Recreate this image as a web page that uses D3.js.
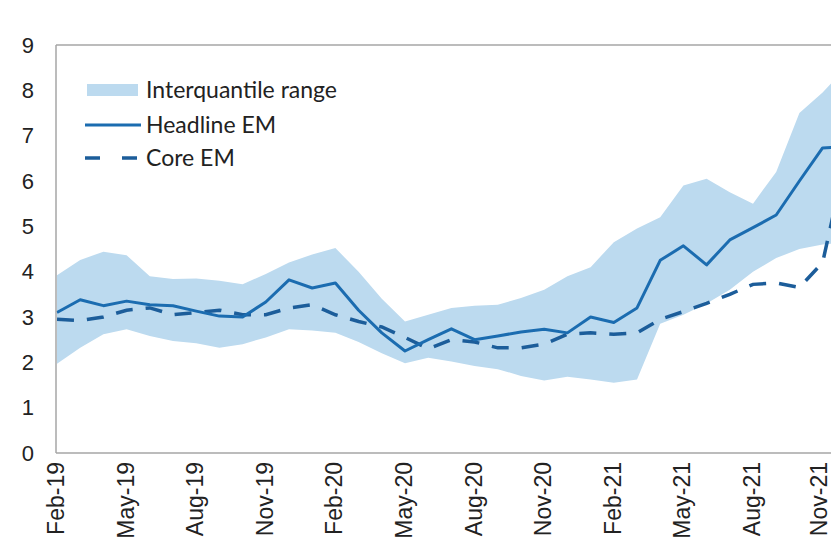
<!DOCTYPE html>
<html>
<head>
<meta charset="utf-8">
<script src="https://cdn.jsdelivr.net/npm/d3@7"></script>
<style>
  html, body { margin: 0; padding: 0; background: #fff; }
  svg { display: block; }
</style>
</head>
<body>
<svg id="chart" width="831" height="550"></svg>
<script>
const months = ["Feb-19","Mar-19","Apr-19","May-19","Jun-19","Jul-19","Aug-19","Sep-19","Oct-19","Nov-19","Dec-19",
  "Jan-20","Feb-20","Mar-20","Apr-20","May-20","Jun-20","Jul-20","Aug-20","Sep-20","Oct-20","Nov-20","Dec-20",
  "Jan-21","Feb-21","Mar-21","Apr-21","May-21","Jun-21","Jul-21","Aug-21","Sep-21","Oct-21","Nov-21","Dec-21"];
const tickLabels = ["Feb-19","May-19","Aug-19","Nov-19","Feb-20","May-20","Aug-20","Nov-20","Feb-21","May-21","Aug-21","Nov-21"];
const yTicks = [0,1,2,3,4,5,6,7,8,9];

const iqrUpper = [3.92,4.26,4.44,4.36,3.9,3.84,3.85,3.8,3.72,3.95,4.2,4.38,4.52,4.0,3.4,2.9,3.05,
  3.2,3.25,3.27,3.42,3.6,3.9,4.1,4.65,4.95,5.2,5.9,6.05,5.75,5.5,6.2,7.5,7.95,8.5];
const iqrLower = [1.97,2.32,2.62,2.73,2.58,2.47,2.42,2.32,2.4,2.55,2.73,2.7,2.65,2.45,2.2,1.98,2.1,
  2.02,1.92,1.85,1.7,1.6,1.68,1.62,1.55,1.62,2.85,3.05,3.3,3.6,4.0,4.3,4.5,4.6,4.65];
const headline = [3.1,3.38,3.25,3.35,3.27,3.25,3.13,3.02,3.0,3.33,3.82,3.64,3.75,3.15,2.65,2.25,2.5,
  2.74,2.5,2.58,2.67,2.73,2.65,3.0,2.88,3.2,4.25,4.57,4.15,4.7,4.97,5.25,6.0,6.73,6.75];
const core = [2.95,2.92,3.0,3.15,3.2,3.05,3.1,3.15,3.05,3.05,3.2,3.27,3.05,2.9,2.78,2.55,2.3,
  2.5,2.45,2.32,2.32,2.4,2.62,2.65,2.62,2.65,2.95,3.12,3.3,3.5,3.72,3.75,3.65,4.2,6.5];

const legendItems = ["Interquantile range","Headline EM","Core EM"];

const svg = d3.select("#chart");
const plotLeft = 56, plotTop = 45, plotBottom = 453;
const x = d3.scalePoint().domain(months).range([57, 57 + 23.2 * (months.length - 1)]);
const y = d3.scaleLinear().domain([0, 9]).range([plotBottom, plotTop]);

const bandColor = "#bcdaef";
const lineColor = "#1b6cb0";
const coreColor = "#1c5d9a";

// band
const area = d3.area().x((d,i) => x(months[i])).y0((d,i) => y(iqrLower[i])).y1(d => y(d));
svg.append("path").datum(iqrUpper).attr("d", area).attr("fill", bandColor);

// lines
const line = d3.line().x((d,i) => x(months[i])).y(d => y(d));
svg.append("path").datum(core).attr("d", line).attr("fill","none")
  .attr("stroke", coreColor).attr("stroke-width", 3.5).attr("stroke-dasharray", "17,13");
svg.append("path").datum(headline).attr("d", line).attr("fill","none")
  .attr("stroke", lineColor).attr("stroke-width", 3).attr("stroke-linejoin","round");

// frame
const frame = svg.append("g").attr("stroke", "#a6a6a6").attr("stroke-width", 1.5).attr("fill","none");
frame.append("line").attr("x1", plotLeft).attr("x2", 900).attr("y1", plotTop).attr("y2", plotTop);
frame.append("line").attr("x1", plotLeft).attr("x2", plotLeft).attr("y1", plotTop).attr("y2", plotBottom);
frame.append("line").attr("x1", plotLeft).attr("x2", 900).attr("y1", plotBottom).attr("y2", plotBottom);

// y axis
const yAxis = d3.axisLeft(y).tickValues(yTicks).tickSize(0).tickPadding(0).tickFormat(d3.format("d"));
const yg = svg.append("g").attr("transform", "translate(34,0)").call(yAxis);
yg.select(".domain").remove();
yg.selectAll("text").attr("font-family", "Liberation Sans, Arial, sans-serif")
  .attr("font-size", 22).attr("fill", "#222").attr("text-anchor","end").attr("x", 0);

// x axis
const xAxis = d3.axisBottom(x).tickValues(tickLabels).tickSize(0).tickPadding(0);
const xg = svg.append("g").attr("transform", `translate(0,${plotBottom})`).call(xAxis);
xg.select(".domain").remove();
xg.selectAll("text")
  .attr("font-family", "Liberation Sans, Arial, sans-serif").attr("font-size", 23).attr("fill", "#222")
  .attr("transform", "rotate(-90)").attr("text-anchor", "end")
  .attr("x", -9).attr("y", (d, i) => i === tickLabels.length - 1 ? -4 : -1).attr("dy", "0.33em");

// legend
const lg = svg.append("g").attr("font-family", "Lato, 'Noto Sans', sans-serif").attr("font-size", 23).attr("fill", "#222");
const ly = [90, 125, 158];
lg.append("rect").attr("x", 87).attr("y", ly[0] - 6).attr("width", 51).attr("height", 12).attr("fill", bandColor);
lg.append("line").attr("x1", 85).attr("x2", 141).attr("y1", ly[1]).attr("y2", ly[1]).attr("stroke", lineColor).attr("stroke-width", 3);
lg.append("line").attr("x1", 85).attr("x2", 140).attr("y1", ly[2]).attr("y2", ly[2]).attr("stroke", coreColor)
  .attr("stroke-width", 3.5).attr("stroke-dasharray", "15,22");
legendItems.forEach((t, i) => {
  lg.append("text").attr("x", 146).attr("y", ly[i]).attr("dy", "0.36em").text(t);
});
</script>
</body>
</html>
